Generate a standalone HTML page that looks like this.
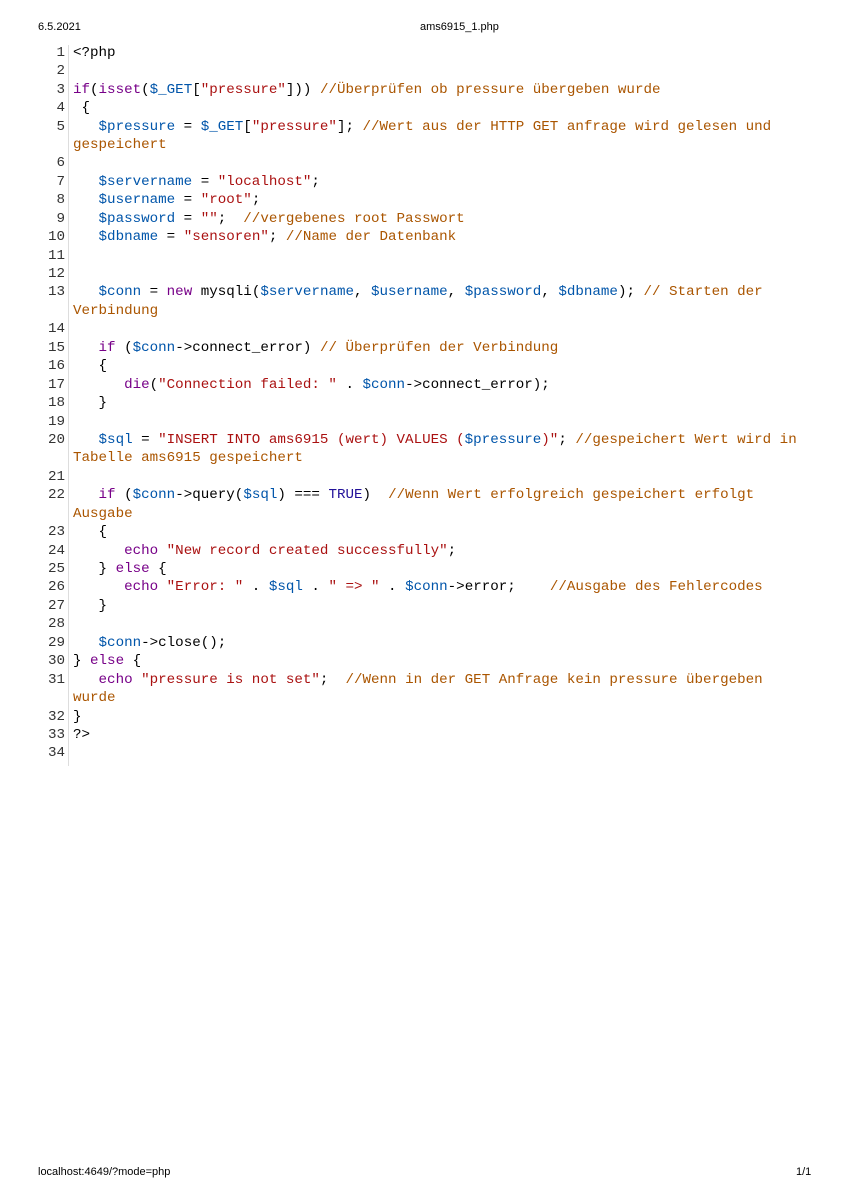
<!DOCTYPE html>
<html><head><meta charset="utf-8"><style>
html,body{margin:0;padding:0;background:#fff;width:850px;height:1201px;overflow:hidden;position:relative}
.hd{position:absolute;font-family:"Liberation Sans",sans-serif;font-size:11px;color:#000}
#code{position:absolute;left:0;top:43.8px;font-family:"Liberation Mono",monospace;font-size:14.2px;line-height:18.45px;color:#000}
.r{height:18.45px;position:relative}
.n{position:absolute;left:30px;width:35px;text-align:right;color:#333}
.t{position:absolute;left:73px;white-space:pre}
.k{color:#770088}.v{color:#0055aa}.s{color:#aa1111}.c{color:#aa5500}.a{color:#221199}
#gut{position:absolute;left:68px;top:45px;width:1px;height:721px;background:#ddd}
</style></head><body>
<div class="hd" style="left:38px;top:21px">6.5.2021</div>
<div class="hd" style="left:420px;top:21px">ams6915_1.php</div>
<div class="hd" style="left:38px;top:1166px">localhost:4649/?mode=php</div>
<div class="hd" style="left:796px;top:1166px">1/1</div>
<div id="gut"></div>
<div id="code"><div class="r"><span class="n">1</span><span class="t">&lt;?php</span></div><div class="r"><span class="n">2</span><span class="t"></span></div><div class="r"><span class="n">3</span><span class="t"><span class="k">if</span>(<span class="k">isset</span>(<span class="v">$_GET</span>[<span class="s">"pressure"</span>])) <span class="c">//Überprüfen ob pressure übergeben wurde</span></span></div><div class="r"><span class="n">4</span><span class="t"> {</span></div><div class="r"><span class="n">5</span><span class="t">   <span class="v">$pressure</span> = <span class="v">$_GET</span>[<span class="s">"pressure"</span>]; <span class="c">//Wert aus der HTTP GET anfrage wird gelesen und</span></span></div><div class="r"><span class="t c">gespeichert</span></div><div class="r"><span class="n">6</span><span class="t"></span></div><div class="r"><span class="n">7</span><span class="t">   <span class="v">$servername</span> = <span class="s">"localhost"</span>;</span></div><div class="r"><span class="n">8</span><span class="t">   <span class="v">$username</span> = <span class="s">"root"</span>;</span></div><div class="r"><span class="n">9</span><span class="t">   <span class="v">$password</span> = <span class="s">""</span>;  <span class="c">//vergebenes root Passwort</span></span></div><div class="r"><span class="n">10</span><span class="t">   <span class="v">$dbname</span> = <span class="s">"sensoren"</span>; <span class="c">//Name der Datenbank</span></span></div><div class="r"><span class="n">11</span><span class="t"></span></div><div class="r"><span class="n">12</span><span class="t"></span></div><div class="r"><span class="n">13</span><span class="t">   <span class="v">$conn</span> = <span class="k">new</span> mysqli(<span class="v">$servername</span>, <span class="v">$username</span>, <span class="v">$password</span>, <span class="v">$dbname</span>); <span class="c">// Starten der</span></span></div><div class="r"><span class="t c">Verbindung</span></div><div class="r"><span class="n">14</span><span class="t"></span></div><div class="r"><span class="n">15</span><span class="t">   <span class="k">if</span> (<span class="v">$conn</span>-&gt;connect_error) <span class="c">// Überprüfen der Verbindung</span></span></div><div class="r"><span class="n">16</span><span class="t">   {</span></div><div class="r"><span class="n">17</span><span class="t">      <span class="k">die</span>(<span class="s">"Connection failed: "</span> . <span class="v">$conn</span>-&gt;connect_error);</span></div><div class="r"><span class="n">18</span><span class="t">   }</span></div><div class="r"><span class="n">19</span><span class="t"></span></div><div class="r"><span class="n">20</span><span class="t">   <span class="v">$sql</span> = <span class="s">"INSERT INTO ams6915 (wert) VALUES (</span><span class="v">$pressure</span><span class="s">)"</span>; <span class="c">//gespeichert Wert wird in</span></span></div><div class="r"><span class="t c">Tabelle ams6915 gespeichert</span></div><div class="r"><span class="n">21</span><span class="t"></span></div><div class="r"><span class="n">22</span><span class="t">   <span class="k">if</span> (<span class="v">$conn</span>-&gt;query(<span class="v">$sql</span>) === <span class="a">TRUE</span>)  <span class="c">//Wenn Wert erfolgreich gespeichert erfolgt</span></span></div><div class="r"><span class="t c">Ausgabe</span></div><div class="r"><span class="n">23</span><span class="t">   {</span></div><div class="r"><span class="n">24</span><span class="t">      <span class="k">echo</span> <span class="s">"New record created successfully"</span>;</span></div><div class="r"><span class="n">25</span><span class="t">   } <span class="k">else</span> {</span></div><div class="r"><span class="n">26</span><span class="t">      <span class="k">echo</span> <span class="s">"Error: "</span> . <span class="v">$sql</span> . <span class="s">" =&gt; "</span> . <span class="v">$conn</span>-&gt;error;    <span class="c">//Ausgabe des Fehlercodes</span></span></div><div class="r"><span class="n">27</span><span class="t">   }</span></div><div class="r"><span class="n">28</span><span class="t"></span></div><div class="r"><span class="n">29</span><span class="t">   <span class="v">$conn</span>-&gt;close();</span></div><div class="r"><span class="n">30</span><span class="t">} <span class="k">else</span> {</span></div><div class="r"><span class="n">31</span><span class="t">   <span class="k">echo</span> <span class="s">"pressure is not set"</span>;  <span class="c">//Wenn in der GET Anfrage kein pressure übergeben</span></span></div><div class="r"><span class="t c">wurde</span></div><div class="r"><span class="n">32</span><span class="t">}</span></div><div class="r"><span class="n">33</span><span class="t">?&gt;</span></div><div class="r"><span class="n">34</span><span class="t"></span></div></div>
</body></html>
